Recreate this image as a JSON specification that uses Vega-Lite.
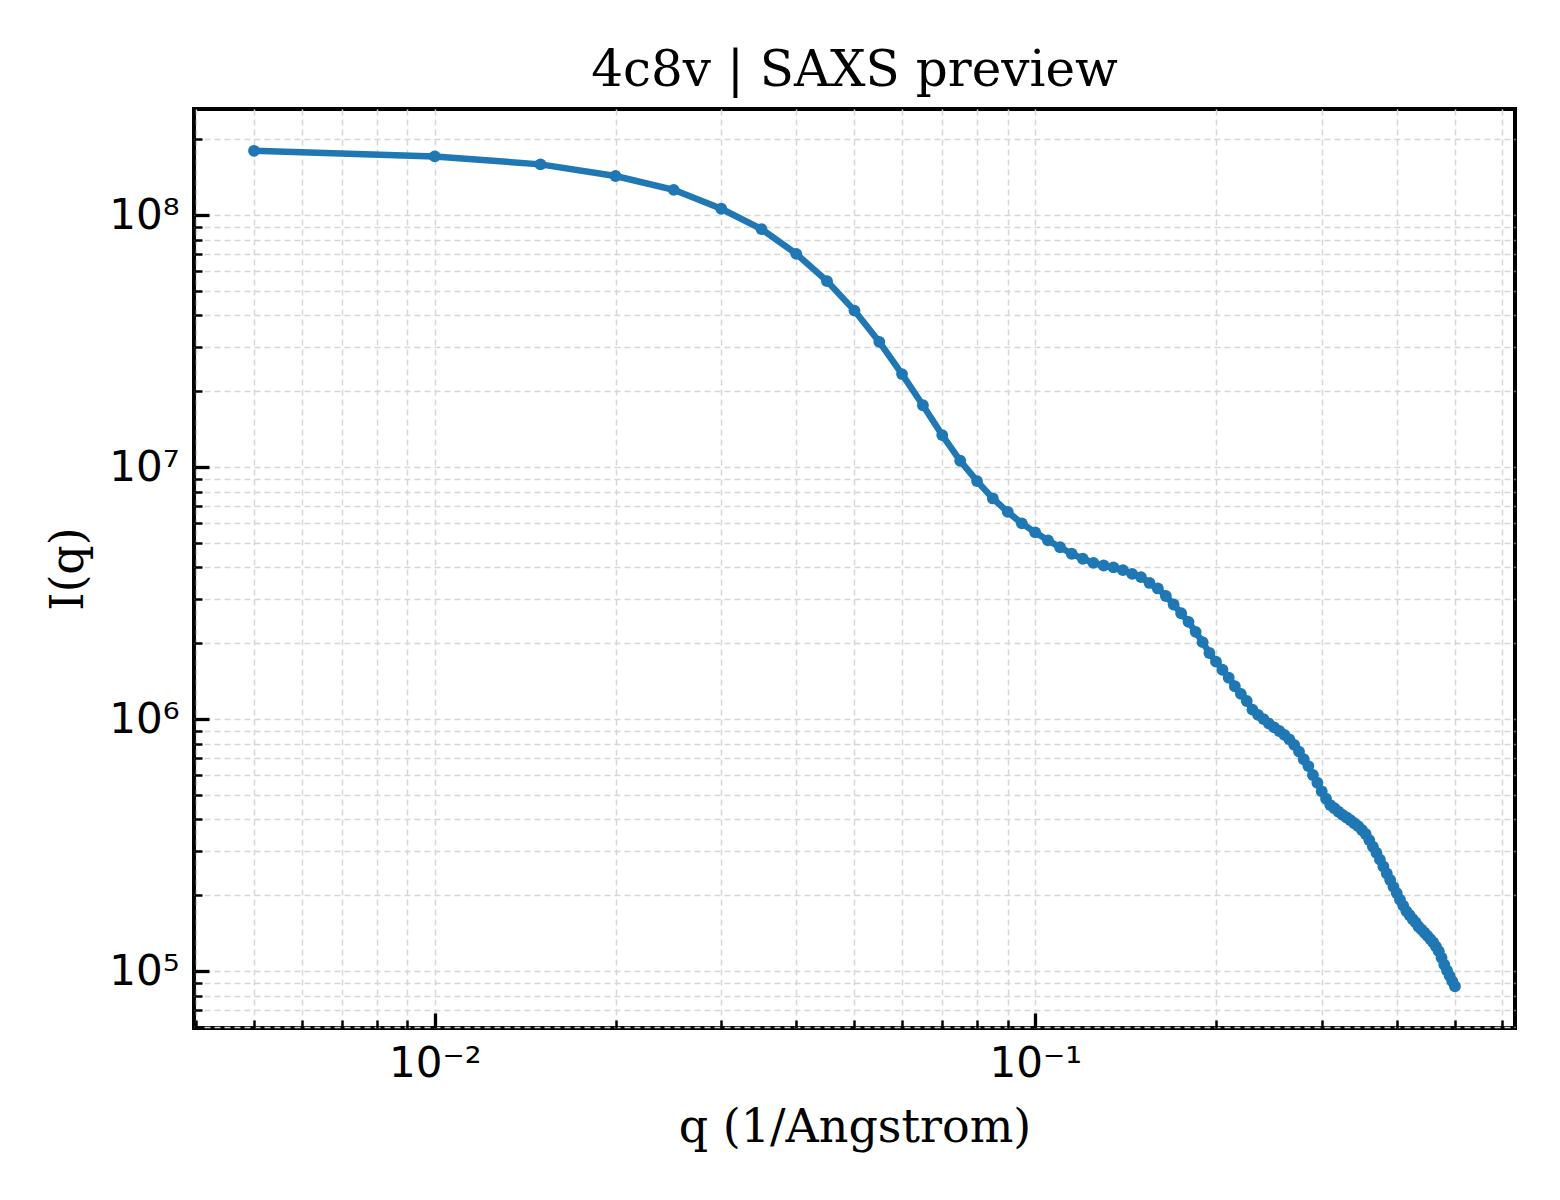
{
  "$schema": "https://vega.github.io/schema/vega-lite/v6.json",
  "autosize": {"type": "none"},
  "padding": {"left": 194, "top": 109, "right": 45, "bottom": 172},
  "width": 1321,
  "height": 919,
  "background": "white",
  "title": {
    "text": "4c8v | SAXS preview",
    "font": "DejaVu Serif",
    "fontSize": 50,
    "fontWeight": "normal",
    "color": "black",
    "anchor": "middle",
    "offset": 13
  },
  "data": {
    "values": [
      {"q": 0.005, "I": 1.80e8}, {"q": 0.010, "I": 1.71e8}, {"q": 0.015, "I": 1.59e8},
      {"q": 0.020, "I": 1.43e8}, {"q": 0.025, "I": 1.26e8}, {"q": 0.030, "I": 1.06e8},
      {"q": 0.035, "I": 8.80e7}, {"q": 0.040, "I": 7.02e7}, {"q": 0.045, "I": 5.47e7},
      {"q": 0.050, "I": 4.18e7}, {"q": 0.055, "I": 3.14e7}, {"q": 0.060, "I": 2.34e7},
      {"q": 0.065, "I": 1.76e7}, {"q": 0.070, "I": 1.34e7}, {"q": 0.075, "I": 1.06e7},
      {"q": 0.080, "I": 8.80e6}, {"q": 0.085, "I": 7.51e6}, {"q": 0.090, "I": 6.64e6},
      {"q": 0.095, "I": 5.98e6}, {"q": 0.100, "I": 5.51e6}, {"q": 0.105, "I": 5.12e6},
      {"q": 0.110, "I": 4.81e6}, {"q": 0.115, "I": 4.53e6}, {"q": 0.120, "I": 4.33e6},
      {"q": 0.125, "I": 4.17e6}, {"q": 0.130, "I": 4.07e6}, {"q": 0.135, "I": 4.00e6},
      {"q": 0.140, "I": 3.90e6}, {"q": 0.145, "I": 3.77e6}, {"q": 0.150, "I": 3.66e6},
      {"q": 0.155, "I": 3.47e6}, {"q": 0.160, "I": 3.30e6}, {"q": 0.165, "I": 3.08e6},
      {"q": 0.170, "I": 2.85e6}, {"q": 0.175, "I": 2.63e6}, {"q": 0.180, "I": 2.43e6},
      {"q": 0.185, "I": 2.22e6}, {"q": 0.190, "I": 2.02e6}, {"q": 0.195, "I": 1.83e6},
      {"q": 0.200, "I": 1.69e6}, {"q": 0.205, "I": 1.57e6}, {"q": 0.210, "I": 1.46e6},
      {"q": 0.215, "I": 1.35e6}, {"q": 0.220, "I": 1.26e6}, {"q": 0.225, "I": 1.18e6},
      {"q": 0.230, "I": 1.09e6}, {"q": 0.235, "I": 1.04e6}, {"q": 0.240, "I": 1.00e6},
      {"q": 0.245, "I": 9.60e5}, {"q": 0.250, "I": 9.27e5}, {"q": 0.255, "I": 8.97e5},
      {"q": 0.260, "I": 8.66e5}, {"q": 0.265, "I": 8.31e5}, {"q": 0.270, "I": 7.90e5},
      {"q": 0.275, "I": 7.43e5}, {"q": 0.280, "I": 6.93e5}, {"q": 0.285, "I": 6.51e5},
      {"q": 0.290, "I": 6.00e5}, {"q": 0.295, "I": 5.59e5}, {"q": 0.300, "I": 5.17e5},
      {"q": 0.305, "I": 4.83e5}, {"q": 0.310, "I": 4.56e5}, {"q": 0.315, "I": 4.43e5},
      {"q": 0.320, "I": 4.29e5}, {"q": 0.325, "I": 4.17e5}, {"q": 0.330, "I": 4.07e5},
      {"q": 0.335, "I": 3.97e5}, {"q": 0.340, "I": 3.86e5}, {"q": 0.345, "I": 3.76e5},
      {"q": 0.350, "I": 3.63e5}, {"q": 0.355, "I": 3.50e5}, {"q": 0.360, "I": 3.31e5},
      {"q": 0.365, "I": 3.12e5}, {"q": 0.370, "I": 2.95e5}, {"q": 0.375, "I": 2.77e5},
      {"q": 0.380, "I": 2.60e5}, {"q": 0.385, "I": 2.44e5}, {"q": 0.390, "I": 2.30e5},
      {"q": 0.395, "I": 2.16e5}, {"q": 0.400, "I": 2.04e5}, {"q": 0.405, "I": 1.92e5},
      {"q": 0.410, "I": 1.82e5}, {"q": 0.415, "I": 1.73e5}, {"q": 0.420, "I": 1.67e5},
      {"q": 0.425, "I": 1.61e5}, {"q": 0.430, "I": 1.56e5}, {"q": 0.435, "I": 1.50e5},
      {"q": 0.440, "I": 1.46e5}, {"q": 0.445, "I": 1.42e5}, {"q": 0.450, "I": 1.38e5},
      {"q": 0.455, "I": 1.34e5}, {"q": 0.460, "I": 1.30e5}, {"q": 0.465, "I": 1.25e5},
      {"q": 0.470, "I": 1.20e5}, {"q": 0.475, "I": 1.13e5}, {"q": 0.480, "I": 1.06e5},
      {"q": 0.485, "I": 1.005e5}, {"q": 0.490, "I": 9.57e4}, {"q": 0.495, "I": 9.12e4},
      {"q": 0.500, "I": 8.71e4}
    ]
  },
  "mark": {
    "type": "line",
    "color": "#1f77b4",
    "strokeWidth": 6.5,
    "point": {"filled": true, "size": 140, "color": "#1f77b4", "opacity": 1}
  },
  "encoding": {
    "x": {
      "field": "q",
      "type": "quantitative",
      "title": "q (1/Angstrom)",
      "scale": {"type": "log", "domain": [0.003972, 0.6295], "nice": false},
      "axis": {
        "values": [0.004, 0.005, 0.006, 0.007, 0.008, 0.009, 0.01, 0.02, 0.03, 0.04, 0.05, 0.06, 0.07, 0.08, 0.09, 0.1, 0.2, 0.3, 0.4, 0.5, 0.6],
        "labelExpr": "datum.value == 0.01 ? '10⁻²' : datum.value == 0.1 ? '10⁻¹' : ''",
        "tickSize": {"condition": {"test": "datum.value == 0.01 || datum.value == 0.1", "value": -15}, "value": -8},
        "tickWidth": {"condition": {"test": "datum.value == 0.01 || datum.value == 0.1", "value": 3.3}, "value": 2.5},
        "labelPadding": 30,
        "titlePadding": 14
      }
    },
    "y": {
      "field": "I",
      "type": "quantitative",
      "title": "I(q)",
      "scale": {"type": "log", "domain": [59453, 2.6374e8], "nice": false},
      "axis": {
        "values": [60000, 70000, 80000, 90000, 100000, 200000, 300000, 400000, 500000, 600000, 700000, 800000, 900000, 1000000, 2000000, 3000000, 4000000, 5000000, 6000000, 7000000, 8000000, 9000000, 10000000, 20000000, 30000000, 40000000, 50000000, 60000000, 70000000, 80000000, 90000000, 100000000, 200000000],
        "labelExpr": "datum.value == 100000 ? '10⁵' : datum.value == 1000000 ? '10⁶' : datum.value == 10000000 ? '10⁷' : datum.value == 100000000 ? '10⁸' : ''",
        "tickSize": {"condition": {"test": "datum.value == 100000 || datum.value == 1000000 || datum.value == 10000000 || datum.value == 100000000", "value": -15}, "value": -8},
        "tickWidth": {"condition": {"test": "datum.value == 100000 || datum.value == 1000000 || datum.value == 10000000 || datum.value == 100000000", "value": 3.3}, "value": 2.5},
        "labelPadding": 30,
        "titlePadding": 16
      }
    }
  },
  "config": {
    "view": {"stroke": "black", "strokeWidth": 4},
    "axis": {
      "domain": false,
      "grid": true,
      "gridColor": "#d6d6d6",
      "gridWidth": 1.5,
      "gridDash": [6, 4],
      "tickColor": "black",
      "labelFont": "DejaVu Sans",
      "labelFontSize": 42,
      "labelColor": "black",
      "labelOverlap": false,
      "labelFlush": false,
      "titleFont": "DejaVu Serif",
      "titleFontSize": 46,
      "titleFontWeight": "normal",
      "titleColor": "black"
    }
  }
}
